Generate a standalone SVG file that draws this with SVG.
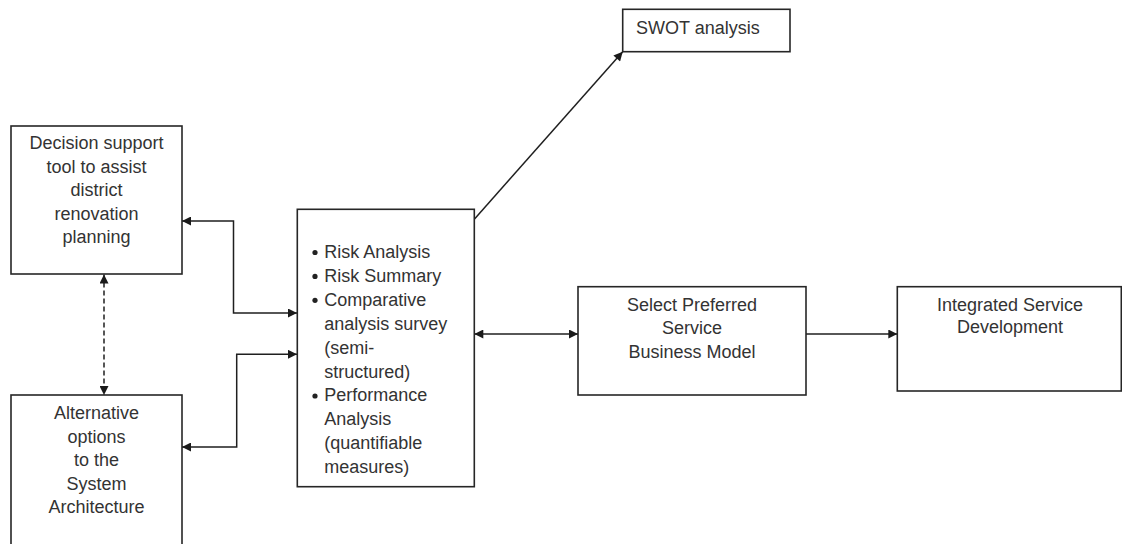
<svg xmlns="http://www.w3.org/2000/svg" width="1122" height="544" viewBox="0 0 1122 544">
  <defs>
    <marker id="arrow" viewBox="0 0 10 10" refX="10" refY="5" markerWidth="10" markerHeight="9" markerUnits="userSpaceOnUse" orient="auto-start-reverse">
      <path d="M0,0 L10,5 L0,10 z" fill="#1a1a1a"/>
    </marker>
    <style>
      .box { fill: #ffffff; stroke: #262626; stroke-width: 1.6; }
      .txt { font-family: "Liberation Sans", Arial, sans-serif; font-size: 18px; fill: #333333; }
      .c { text-anchor: middle; }
      .conn { fill: none; stroke: #1f1f1f; stroke-width: 1.5; }
      .dash { stroke-dasharray: 5 3; }
      .bullet { fill: #222222; }
    </style>
  </defs>
  <rect width="1122" height="544" fill="#ffffff"/>

  <g id="connectors">
    <path class="conn" d="M182,221 H233.5 V313 H297" marker-start="url(#arrow)" marker-end="url(#arrow)"/>
    <path class="conn" d="M182,447 H236.7 V354.3 H297" marker-start="url(#arrow)" marker-end="url(#arrow)"/>
    <path class="conn dash" d="M104,274.5 V395" marker-start="url(#arrow)" marker-end="url(#arrow)"/>
    <path class="conn" d="M474.3,334 H578" marker-start="url(#arrow)" marker-end="url(#arrow)"/>
    <path class="conn" d="M806,334 H897.3" marker-end="url(#arrow)"/>
    <path class="conn" d="M474.3,219.3 L622.7,51.7" marker-end="url(#arrow)"/>
  </g>

  <g id="node-decision">
    <rect class="box" x="11" y="126" width="171" height="148"/>
    <text class="txt c" x="96.5" y="149">Decision support</text>
    <text class="txt c" x="96.5" y="172.6">tool to assist</text>
    <text class="txt c" x="96.5" y="196.2">district</text>
    <text class="txt c" x="96.5" y="219.8">renovation</text>
    <text class="txt c" x="96.5" y="243.4">planning</text>
  </g>

  <g id="node-alternative">
    <rect class="box" x="11" y="395" width="171" height="155"/>
    <text class="txt c" x="96.5" y="419">Alternative</text>
    <text class="txt c" x="96.5" y="443">options</text>
    <text class="txt c" x="96.5" y="466">to the</text>
    <text class="txt c" x="96.5" y="490">System</text>
    <text class="txt c" x="96.5" y="513">Architecture</text>
  </g>

  <g id="node-analysis">
    <rect class="box" x="297.3" y="209.3" width="177" height="277.4"/>
    <circle class="bullet" cx="315" cy="252.5" r="2.6"/>
    <circle class="bullet" cx="315" cy="276.4" r="2.6"/>
    <circle class="bullet" cx="315" cy="300.3" r="2.6"/>
    <circle class="bullet" cx="315" cy="396" r="2.6"/>
    <text class="txt" x="324.3" y="258">Risk Analysis</text>
    <text class="txt" x="324.3" y="281.9">Risk Summary</text>
    <text class="txt" x="324.3" y="305.8">Comparative</text>
    <text class="txt" x="324.3" y="329.7">analysis survey</text>
    <text class="txt" x="324.3" y="353.6">(semi-</text>
    <text class="txt" x="324.3" y="377.5">structured)</text>
    <text class="txt" x="324.3" y="401.4">Performance</text>
    <text class="txt" x="324.3" y="425.3">Analysis</text>
    <text class="txt" x="324.3" y="449.2">(quantifiable</text>
    <text class="txt" x="324.3" y="473.1">measures)</text>
  </g>

  <g id="node-swot">
    <rect class="box" x="622.7" y="9.3" width="167.3" height="42.4"/>
    <text class="txt" x="636" y="33.5">SWOT analysis</text>
  </g>

  <g id="node-select">
    <rect class="box" x="578" y="286.7" width="228" height="108.3"/>
    <text class="txt c" x="692" y="311">Select Preferred</text>
    <text class="txt c" x="692" y="334">Service</text>
    <text class="txt c" x="692" y="357.7">Business Model</text>
  </g>

  <g id="node-integrated">
    <rect class="box" x="897.3" y="286.7" width="224" height="104.3"/>
    <text class="txt c" x="1010" y="311">Integrated Service</text>
    <text class="txt c" x="1010" y="333">Development</text>
  </g>
</svg>
